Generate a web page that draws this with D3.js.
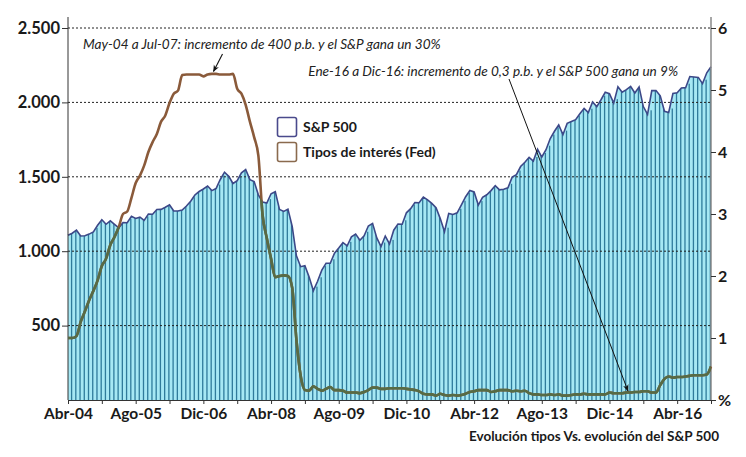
<!DOCTYPE html>
<html>
<head>
<meta charset="utf-8">
<title>Evolución tipos Vs. evolución del S&P 500</title>
<script src="https://cdn.jsdelivr.net/npm/d3@7"></script>
<style>
  body { margin: 0; background: #fff; }
  .tick text { font-family: 'Lato', sans-serif; font-weight: bold; fill: #1a1a1a; }
  .note { font-family: 'Lato', sans-serif; font-style: italic; font-size: 13.6px; fill: #222; }
  .legend text { font-family: 'Lato', sans-serif; font-weight: bold; font-size: 14px; fill: #1a1a1a; }
</style>
</head>
<body>
<div id="chart"></div>
<script>
// monthly values, Abr-04 .. Dic-16
const startYear = 2004, startMonth = 3;
const spx = [
  1107,1121,1141,1102,1104,1115,1130,1174,1212,
  1181,1204,1181,1157,1192,1191,1234,1220,1229,1207,1249,1248,
  1280,1281,1295,1311,1270,1270,1277,1304,1336,1378,1401,1418,
  1438,1407,1421,1482,1531,1503,1455,1474,1527,1549,1481,1468,
  1379,1331,1323,1386,1400,1280,1267,1283,1166,969,896,903,
  826,735,798,873,919,919,987,1021,1057,1036,1096,1115,
  1074,1104,1169,1187,1089,1031,1102,1049,1141,1183,1181,1258,
  1286,1327,1326,1364,1345,1321,1292,1219,1131,1253,1247,1258,
  1312,1366,1408,1398,1310,1362,1379,1407,1441,1412,1416,1426,
  1498,1515,1569,1598,1631,1606,1686,1633,1682,1757,1806,1848,
  1783,1859,1872,1884,1924,1960,1931,2003,1972,2018,2068,2059,
  1995,2105,2068,2086,2107,2063,2104,1972,1920,2079,2080,2044,
  1940,1932,2060,2065,2097,2099,2174,2171,2168,2126,2199,2239
];
const fed = [
  1.00,1.00,1.03,1.26,1.43,1.61,1.76,1.93,2.16,
  2.28,2.50,2.63,2.79,3.00,3.04,3.26,3.50,3.62,3.78,4.00,4.16,
  4.29,4.49,4.59,4.79,4.94,4.99,5.24,5.25,5.25,5.25,5.25,5.22,
  5.25,5.26,5.26,5.25,5.25,5.25,5.26,5.02,4.94,4.76,4.49,4.24,
  3.94,2.98,2.61,2.28,1.98,2.00,2.01,2.00,1.81,0.97,0.39,0.16,
  0.15,0.22,0.18,0.15,0.18,0.21,0.16,0.16,0.15,0.12,0.12,0.12,
  0.11,0.13,0.16,0.20,0.20,0.18,0.18,0.19,0.19,0.19,0.19,0.18,
  0.17,0.16,0.14,0.10,0.09,0.09,0.07,0.10,0.08,0.07,0.08,0.07,
  0.08,0.10,0.13,0.14,0.16,0.16,0.16,0.13,0.14,0.16,0.16,0.16,
  0.14,0.15,0.14,0.15,0.11,0.09,0.09,0.08,0.08,0.09,0.08,0.09,
  0.07,0.07,0.08,0.09,0.09,0.10,0.09,0.09,0.09,0.09,0.09,0.12,
  0.11,0.11,0.11,0.12,0.12,0.13,0.13,0.14,0.14,0.12,0.12,0.24,
  0.34,0.38,0.36,0.37,0.37,0.38,0.39,0.40,0.40,0.40,0.41,0.54
];
const monthNames = ["Ene","Feb","Mar","Abr","May","Jun","Jul","Ago","Sep","Oct","Nov","Dic"];
const leftTicks = [500, 1000, 1500, 2000, 2500];
const rightTicks = [0, 1, 2, 3, 4, 5, 6];
const legendItems = ["S&P 500", "Tipos de interés (Fed)"];
const notes = [
  "May-04 a Jul-07: incremento de 400 p.b. y el S&P gana un 30%",
  "Ene-16 a Dic-16: incremento de 0,3 p.b. y el S&P 500 gana un 9%"
];
const title = "Evolución tipos Vs. evolución del S&P 500";

const W = 746, H = 457;
const plotL = 68, plotR = 711, plotT = 28, base = 400;

function label(i) {
  const m = startMonth + i;
  const yr = startYear + Math.floor(m / 12);
  return monthNames[m % 12] + "-" + String(yr).slice(2);
}

const x = d3.scaleLinear().domain([0, spx.length - 1]).range([plotL, plotR]);
const step = x(1) - x(0);
const y = d3.scaleLinear().domain([0, 2500]).range([base, plotT]);
const y2 = d3.scaleLinear().domain([0, 6]).range([base, plotT]);

const svg = d3.select("#chart").append("svg")
  .attr("width", W).attr("height", H);

const defs = svg.append("defs");
const area = d3.area().x((d, i) => x(i)).y0(base).y1(d => y(d));
defs.append("clipPath").attr("id", "spxClip")
  .append("path").attr("d", area(spx));
const marker = defs.append("marker")
  .attr("id", "head").attr("viewBox", "0 0 10 10")
  .attr("refX", 9).attr("refY", 5)
  .attr("markerWidth", 7).attr("markerHeight", 7)
  .attr("markerUnits", "userSpaceOnUse")
  .attr("orient", "auto-start-reverse");
marker.append("path").attr("d", "M0,1 L10,5 L0,9 L3,5 Z").attr("fill", "#111");

// S&P area + stripes
svg.append("path").attr("d", area(spx)).attr("fill", "#a6e8f4");
svg.append("g").attr("clip-path", "url(#spxClip)")
  .selectAll("rect").data(spx).enter().append("rect")
  .attr("x", (d, i) => x(i) + step - 1.3)
  .attr("y", d => y(d) - 4)
  .attr("width", 1.3)
  .attr("height", d => base - y(d) + 4)
  .attr("fill", "#2f7b9b");

// grid
svg.append("g").selectAll("line").data(leftTicks).enter().append("line")
  .attr("x1", plotL).attr("x2", plotR)
  .attr("y1", d => y(d)).attr("y2", d => y(d))
  .attr("stroke", "#222").attr("stroke-width", 1).attr("stroke-dasharray", "2,2");

// S&P top line
const line = d3.line().x((d, i) => x(i)).y(d => y(d));
svg.append("path").attr("d", line(spx))
  .attr("fill", "none").attr("stroke", "#3c4888").attr("stroke-width", 1.6);

// axes
const xTicks = d3.range(0, spx.length, 8);
const xAxis = d3.axisBottom(x).tickValues(xTicks)
  .tickFormat((d, i) => i % 2 === 0 ? label(d) : "")
  .tickSize(4).tickPadding(4);
const gx = svg.append("g").attr("transform", `translate(0,${base})`).call(xAxis);
gx.select(".domain").attr("stroke", "#333");
gx.selectAll(".tick line").attr("stroke", "#333");
gx.selectAll(".tick text").style("font-size", "15.5px");

const yAxis = d3.axisLeft(y).tickValues(leftTicks)
  .tickFormat(d => d3.format(",")(d).replace(",", "."))
  .tickSize(6).tickPadding(2);
const gy = svg.append("g").attr("transform", `translate(${plotL},0)`).call(yAxis);
gy.select(".domain").attr("d", `M0,17V${base}`).attr("stroke", "#333");
gy.selectAll(".tick line").attr("stroke", "#333");
gy.selectAll(".tick text").style("font-size", "16.5px");

const yAxis2 = d3.axisRight(y2).tickValues(rightTicks)
  .tickFormat(d => d === 0 ? "%" : d)
  .tickSize(5).tickPadding(2);
const gy2 = svg.append("g").attr("transform", `translate(${plotR},0)`).call(yAxis2);
gy2.select(".domain").attr("d", `M0,17V${base}`).attr("stroke", "#8a8a8a").attr("stroke-width", 1.5);
gy2.selectAll(".tick line").attr("stroke", "#333");
gy2.selectAll(".tick text").style("font-size", "16px");

// Fed rate line: brown over white, olive over the bars
const line2 = d3.line().x((d, i) => x(i)).y(d => y2(d)).curve(d3.curveMonotoneX);
svg.append("path").attr("d", line2(fed))
  .attr("fill", "none").attr("stroke", "#8a5a3a").attr("stroke-width", 2.6);
svg.append("path").attr("d", line2(fed)).attr("clip-path", "url(#spxClip)")
  .attr("fill", "none").attr("stroke", "#566b45").attr("stroke-width", 2.6);

// legend
const lg = svg.append("g").attr("class", "legend");
const legendColors = ["#4a4a8c", "#8a6a4e"];
legendItems.forEach((t, i) => {
  lg.append("rect").attr("x", 277.5).attr("y", 117.5 + i * 25)
    .attr("width", 19).attr("height", 19).attr("rx", 2)
    .attr("fill", "#fff").attr("stroke", legendColors[i]).attr("stroke-width", 1.6);
  lg.append("text").attr("x", 303).attr("y", 132 + i * 25).text(t);
});

// annotations
svg.append("text").attr("class", "note").attr("x", 83).attr("y", 49).text(notes[0]);
svg.append("text").attr("class", "note").attr("x", 678).attr("y", 76)
  .attr("text-anchor", "end").text(notes[1]);
svg.append("line").attr("x1", 222.5).attr("y1", 54).attr("x2", 213.5).attr("y2", 71.5)
  .attr("stroke", "#111").attr("stroke-width", 1.1).attr("marker-end", "url(#head)");
svg.append("line").attr("x1", 509).attr("y1", 79).attr("x2", 628).attr("y2", 391)
  .attr("stroke", "#111").attr("stroke-width", 1).attr("marker-end", "url(#head)");

svg.append("text").attr("x", 719).attr("y", 441).attr("text-anchor", "end")
  .style("font-family", "'Lato', sans-serif").style("font-weight", "bold")
  .style("font-size", "13.5px").style("fill", "#1a1a1a").text(title);
</script>
</body>
</html>
